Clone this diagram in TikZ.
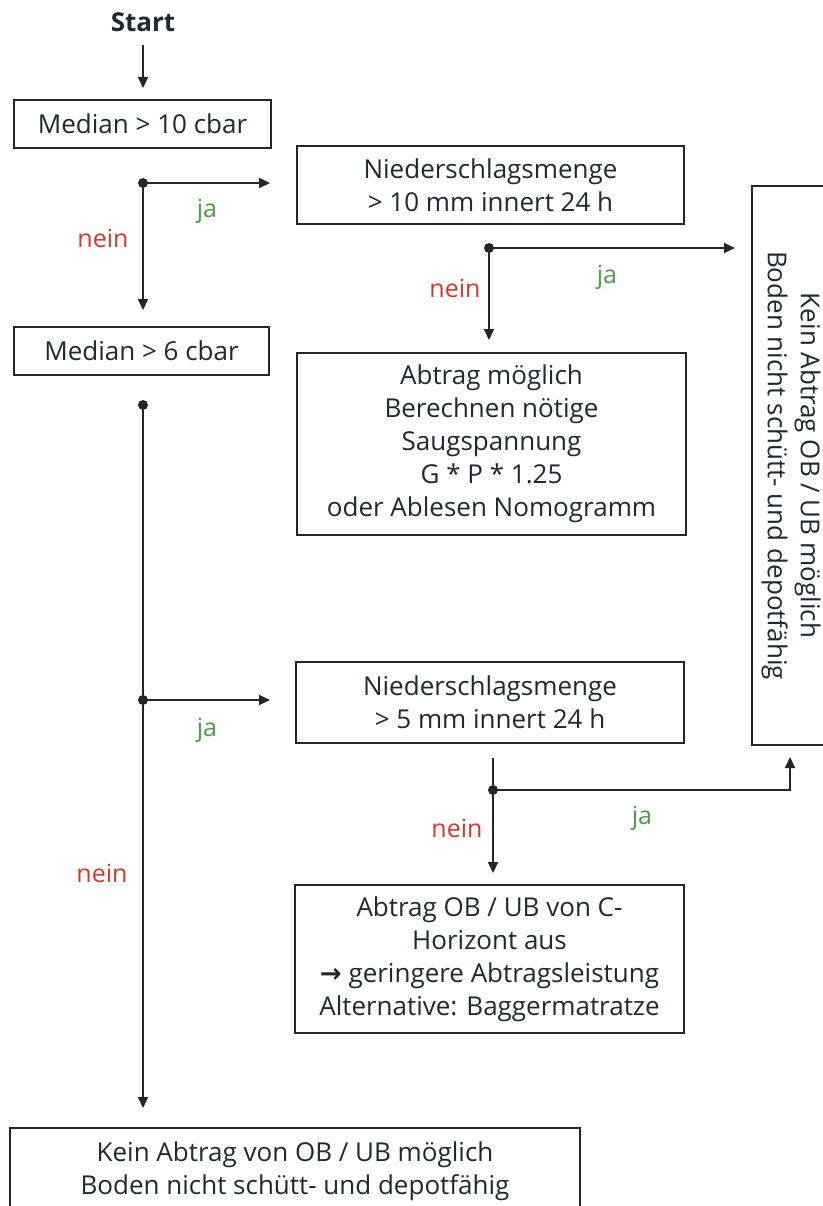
\documentclass[tikz,border=0pt]{standalone}
\usepackage{fontspec}
\setmainfont{Open Sans}
\newfontfamily\arrowfont{DejaVu Sans}
\usetikzlibrary{arrows.meta}
\definecolor{txt}{HTML}{1E2A30}
\definecolor{neinc}{HTML}{D23A2E}
\definecolor{jac}{HTML}{4E9A48}
\tikzset{
  box/.style={draw=black!85, line width=2pt, text=txt, align=center, inner sep=0pt,
     font=\fontsize{26}{33}\selectfont},
  arr/.style={line width=2pt, draw=black!85, -{Triangle[length=11pt,width=10pt]}},
  ln/.style={line width=2pt, draw=black!85},
  dot/.style={circle, fill=black!85, inner sep=0pt, minimum size=10pt},
  nein/.style={text=neinc, font=\fontsize{25}{28}\selectfont},
  ja/.style={text=jac, font=\fontsize{25}{28}\selectfont},
}
\begin{document}
\begin{tikzpicture}[x=1pt,y=-1pt]
\useasboundingbox (0,0) rectangle (822,1206);
\fill[white] (0,0) rectangle (822,1206);

\node[font=\fontsize{26}{28}\selectfont\bfseries, text=txt] (start) at (143,22) {Start};
\node[box, minimum width=257pt, minimum height=48pt] (b1) at (142.5,124) {Median > 10 cbar};
\node[box, minimum width=255pt, minimum height=48pt] (b2) at (141.5,351) {Median > 6 cbar};
\node[box, minimum width=387pt, minimum height=78pt] (b3) at (490.5,185) {Niederschlagsmenge\\> 10 mm innert 24 h};
\node[box, minimum width=389pt, minimum height=182pt] (b4) at (491.5,444) {Abtrag möglich\\Berechnen nötige\\Saugspannung\\G * P * 1.25\\oder Ablesen Nomogramm};
\node[box, rotate=-90, minimum width=559pt, minimum height=78pt] (br) at (791,465.5) {Kein Abtrag OB / UB möglich\\Boden nicht schütt- und depotfähig};
\node[box, minimum width=388pt, minimum height=81pt] (b5) at (490,702.5) {Niederschlagsmenge\\> 5 mm innert 24 h};
\node[box, minimum width=389pt, minimum height=148pt] (b6) at (489.5,959) {Abtrag OB / UB von C-\\Horizont aus\\{\arrowfont\bfseries →} geringere Abtragsleistung\\Alternative: Baggermatratze};
\node[box, minimum width=570pt, minimum height=86pt] (b7) at (295,1171) {};
\node[text=txt, align=center, font=\fontsize{26}{33}\selectfont, inner sep=0pt] (t7) at (295,1171) {Kein Abtrag von OB / UB möglich\\Boden nicht schütt- und depotfähig};

% coordinates
\coordinate (s1) at (143,45);
\coordinate (e1) at (143,88);
\node[dot] (d1) at (143,183) {};
\coordinate (a1) at (270,183);
\coordinate (a2) at (143,310);
\node[dot] (d2) at (489,248) {};
\coordinate (a3) at (735,248);
\coordinate (a4) at (489,340);
\node[dot] (d3) at (143,405) {};
\node[dot] (d4) at (143,700) {};
\coordinate (a5) at (270,700);
\coordinate (a6) at (143,1108);
\coordinate (s5) at (493,758);
\node[dot] (d5) at (493,790) {};
\coordinate (c5) at (790,790);
\coordinate (a7) at (790,757);
\coordinate (a8) at (493,873);

\draw[arr] (s1) -- (e1);
\draw[arr] (d1.center) -- (a1);
\draw[arr] (d1.center) -- (a2);
\draw[arr] (d2.center) -- (a3);
\draw[arr] (d2.center) -- (a4);
\draw[arr] (d3.center) -- (a6);
\draw[arr] (d4.center) -- (a5);
\draw[ln] (s5) -- (d5.center);
\draw[arr] (d5.center) -- (a8);
\draw[arr] (d5.center) -- (c5) -- (a7);

\node[ja] (j1) at (207,211) {ja};
\node[nein] (n1) at (103,238) {nein};
\node[ja] (j2) at (607,277) {ja};
\node[nein] (n2) at (455,288) {nein};
\node[ja] (j3) at (207,730) {ja};
\node[nein] (n3) at (102,873) {nein};
\node[ja] (j4) at (642,818) {ja};
\node[nein] (n4) at (457,828) {nein};
\end{tikzpicture}
\end{document}
